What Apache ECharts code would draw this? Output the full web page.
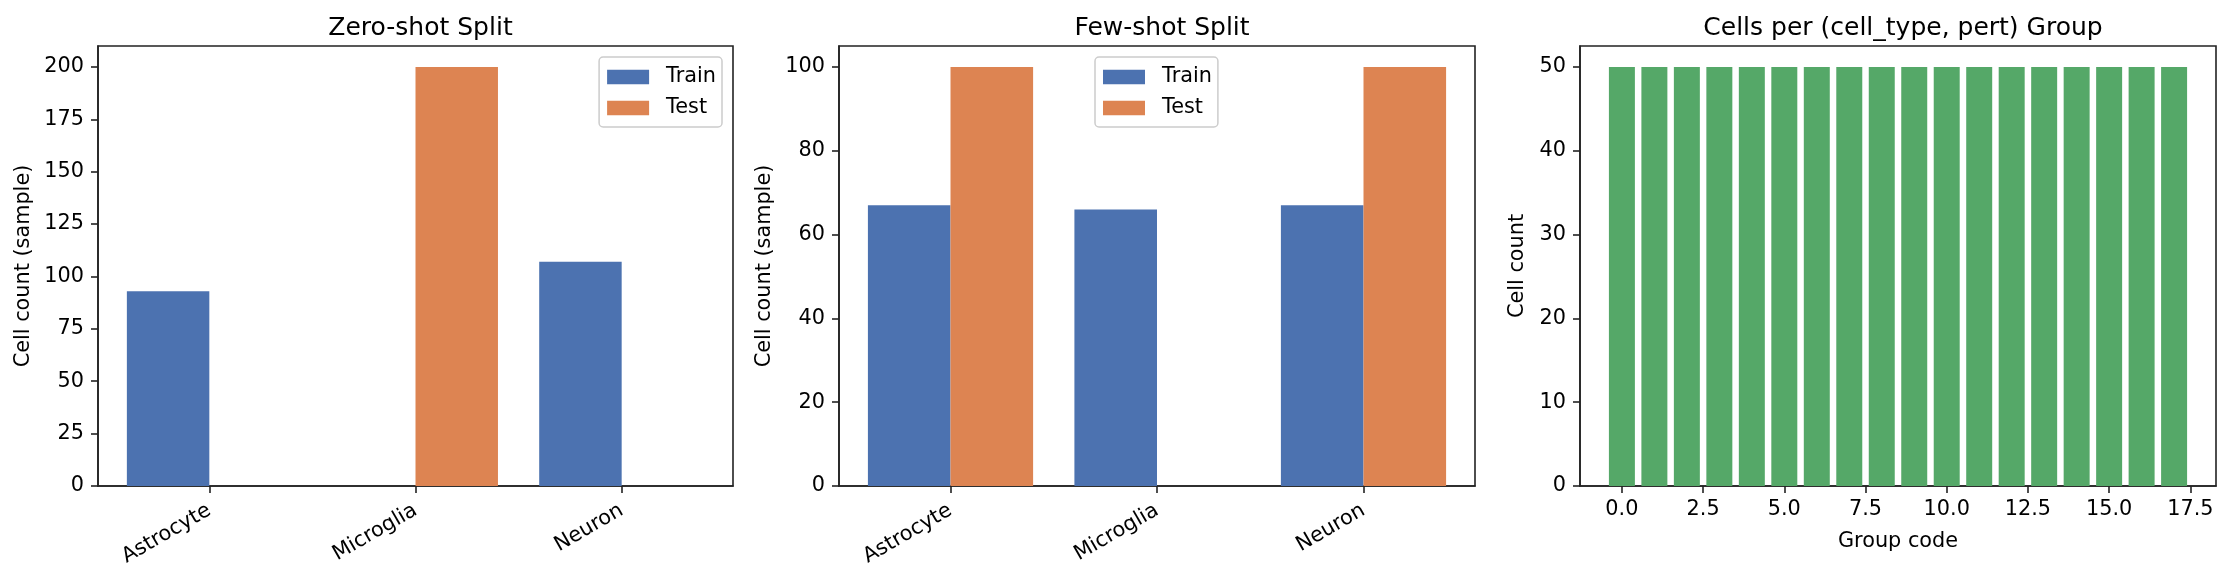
<!DOCTYPE html>
<html>
<head>
<meta charset="utf-8">
<script src="https://cdn.jsdelivr.net/npm/echarts@6/dist/echarts.min.js"></script>
<style>
html, body { margin: 0; padding: 0; background: #fff; }
#main { width: 2231px; height: 582px; }
</style>
</head>
<body>
<div id="main"></div>
<script>
// cell types and split counts
var categories = ['Astrocyte', 'Microglia', 'Neuron'];
var zeroTrain = [93, 0, 107];
var zeroTest = [0, 200, 0];
var fewTrain = [67, 66, 67];
var fewTest = [100, 0, 100];

// per-group counts
var groupCodes = [0, 1, 2, 3, 4, 5, 6, 7, 8, 9, 10, 11, 12, 13, 14, 15, 16, 17];
var groupCounts = [50, 50, 50, 50, 50, 50, 50, 50, 50, 50, 50, 50, 50, 50, 50, 50, 50, 50];

// tick labels
var catTicks = [0, 1, 2];
var zeroYTicks = [0, 25, 50, 75, 100, 125, 150, 175, 200];
var fewYTicks = [0, 20, 40, 60, 80, 100];
var groupYTicks = [0, 10, 20, 30, 40, 50];
var groupXTicks = [0, 2.5, 5, 7.5, 10, 12.5, 15, 17.5];

var FONT = 'DejaVu Sans';
var BLUE = '#4C72B0', ORANGE = '#DD8452', GREEN = '#55A868';
var lineStyle = { color: '#222', width: 1.6 };

function pairs(xs, ys) {
    return xs.map(function (x, i) { return [x, ys[i]]; });
}

function yAxis(idx, max, ticks, name, gap) {
    return {
        type: 'value', gridIndex: idx, min: 0, max: max,
        name: name, nameLocation: 'middle', nameGap: gap, nameRotate: 90,
        nameTextStyle: { fontFamily: FONT, fontSize: 20.8, color: '#000' },
        axisLine: { show: true, onZero: false, lineStyle: lineStyle },
        axisTick: { show: true, length: 7, customValues: ticks, lineStyle: lineStyle },
        axisLabel: { customValues: ticks, margin: 14, fontFamily: FONT, fontSize: 20.8, color: '#000' },
        splitLine: { show: false }
    };
}

function catAxis(idx) {
    return {
        type: 'value', gridIndex: idx, min: -0.54, max: 2.54,
        axisLine: { show: true, onZero: false, lineStyle: lineStyle },
        axisTick: { show: true, length: 7, customValues: catTicks, lineStyle: lineStyle },
        axisLabel: {
            customValues: catTicks, rotate: 30, margin: 23,
            fontFamily: FONT, fontSize: 20.8, color: '#000',
            formatter: function (v) { return categories[Math.round(v)]; }
        },
        splitLine: { show: false }
    };
}

function legendAt(pos) {
    return Object.assign({
        data: ['Train', 'Test'], orient: 'vertical', top: 57,
        icon: 'rect', itemWidth: 42, itemHeight: 14.6, itemGap: 9,
        padding: [9, 6, 8, 8],
        backgroundColor: 'rgba(255,255,255,0.8)', borderColor: '#cccccc', borderWidth: 1.5, borderRadius: 4,
        selectedMode: false,
        textStyle: { fontFamily: FONT, fontSize: 20.8, color: '#000', padding: [0, 0, 0, 12], lineHeight: 22 }
    }, pos);
}

function barSeries(name, idx, xs, ys, color, width) {
    return {
        type: 'bar', name: name, xAxisIndex: idx, yAxisIndex: idx,
        data: pairs(xs, ys), barWidth: width, barGap: '0%',
        itemStyle: { color: color }, silent: true
    };
}

var titleStyle = { fontFamily: FONT, fontSize: 25, fontWeight: 'normal', color: '#000' };

var option = {
    backgroundColor: '#fff',
    animation: false,
    title: [
        { text: 'Zero-shot Split', left: 415.5, top: 11, textAlign: 'center', textStyle: titleStyle },
        { text: 'Few-shot Split', left: 1157, top: 11, textAlign: 'center', textStyle: titleStyle },
        { text: 'Cells per (cell_type, pert) Group', left: 1898, top: 11, textAlign: 'center', textStyle: titleStyle }
    ],
    grid: [
        { left: 98, top: 46, width: 635, height: 440, show: true, borderColor: '#222', borderWidth: 1.6 },
        { left: 839, top: 46, width: 636, height: 440, show: true, borderColor: '#222', borderWidth: 1.6 },
        { left: 1580, top: 46, width: 636, height: 440, show: true, borderColor: '#222', borderWidth: 1.6 }
    ],
    legend: [
        legendAt({ right: 2231 - 722 }),
        legendAt({ left: 1095 })
    ],
    xAxis: [
        catAxis(0),
        catAxis(1),
        {
            type: 'value', gridIndex: 2, min: -1.29, max: 18.29,
            name: 'Group code', nameLocation: 'middle', nameGap: 45,
            nameTextStyle: { fontFamily: FONT, fontSize: 20.8, color: '#000' },
            axisLine: { show: true, onZero: false, lineStyle: lineStyle },
            axisTick: { show: true, length: 7, customValues: groupXTicks, lineStyle: lineStyle },
            axisLabel: {
                customValues: groupXTicks, margin: 13,
                fontFamily: FONT, fontSize: 20.8, color: '#000',
                formatter: function (v) { return v.toFixed(1); }
            },
            splitLine: { show: false }
        }
    ],
    yAxis: [
        yAxis(0, 210, zeroYTicks, 'Cell count (sample)', 64),
        yAxis(1, 105, fewYTicks, 'Cell count (sample)', 64),
        yAxis(2, 52.5, groupYTicks, 'Cell count', 52)
    ],
    series: [
        barSeries('Train', 0, catTicks, zeroTrain, BLUE, '40%'),
        barSeries('Test', 0, catTicks, zeroTest, ORANGE, '40%'),
        barSeries('Train', 1, catTicks, fewTrain, BLUE, '40%'),
        barSeries('Test', 1, catTicks, fewTest, ORANGE, '40%'),
        barSeries('Count', 2, groupCodes, groupCounts, GREEN, '80%')
    ]
};

var chart = echarts.init(document.getElementById('main'));
chart.setOption(option);
</script>
</body>
</html>
